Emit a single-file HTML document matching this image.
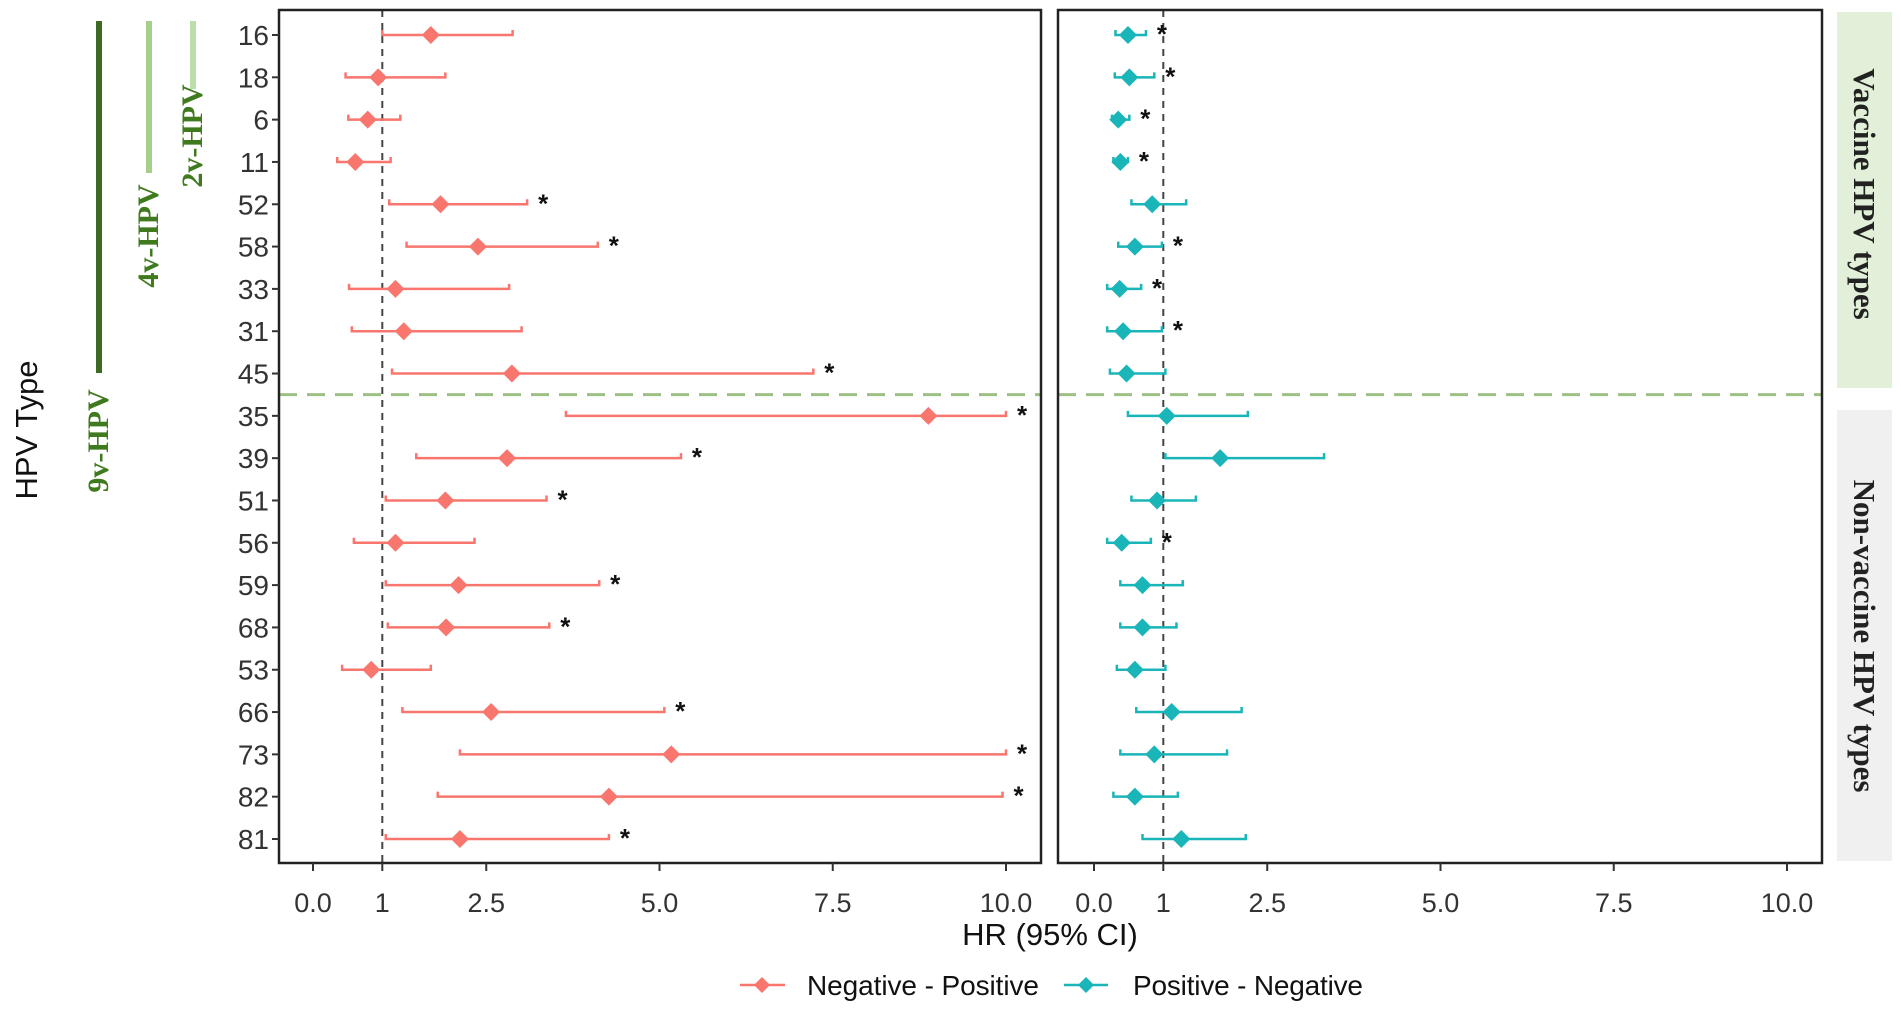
<!DOCTYPE html>
<html><head><meta charset="utf-8"><style>
html,body{margin:0;padding:0;background:#fff;}
svg{display:block;font-family:"Liberation Sans",Arial,sans-serif;}
</style></head><body>
<svg id="chart" width="1901" height="1012" viewBox="0 0 1901 1012" xmlns="http://www.w3.org/2000/svg">
<rect width="1901" height="1012" fill="#fff"/>
<g><text x="0" y="0" transform="translate(37,430) rotate(-90)" text-anchor="middle" font-size="31" fill="#111">HPV Type</text></g>
<g>
<line x1="99" y1="21" x2="99" y2="373" stroke="#3d6b24" stroke-width="6"/>
<line x1="149" y1="21" x2="149" y2="173" stroke="#a5d08c" stroke-width="6"/>
<line x1="193" y1="21" x2="193" y2="89" stroke="#bcdea8" stroke-width="6"/>
<text transform="translate(108,441) rotate(-90)" text-anchor="middle" font-family="Liberation Serif,serif" font-weight="bold" font-size="30" fill="#3f7a1e">9v-HPV</text>
<text transform="translate(158,236) rotate(-90)" text-anchor="middle" font-family="Liberation Serif,serif" font-weight="bold" font-size="30" fill="#3f7a1e">4v-HPV</text>
<text transform="translate(202,136) rotate(-90)" text-anchor="middle" font-family="Liberation Serif,serif" font-weight="bold" font-size="30" fill="#3f7a1e">2v-HPV</text>
</g>
<g id="plots"></g>
<g>
<rect x="1837" y="12" width="55" height="376" fill="#e2f0d9"/>
<text transform="translate(1854,194) rotate(90)" text-anchor="middle" font-family="Liberation Serif,serif" font-weight="bold" font-size="31" fill="#222">Vaccine HPV types</text>
<rect x="1837" y="410" width="55" height="451" fill="#f0f0f0"/>
<text transform="translate(1854,636) rotate(90)" text-anchor="middle" font-family="Liberation Serif,serif" font-weight="bold" font-size="31" fill="#222">Non-vaccine HPV types</text>
</g>
<text x="1050" y="945" text-anchor="middle" font-size="31" fill="#111">HR (95% CI)</text>
<g>
<g>
<line x1="740" y1="985" x2="785" y2="985" stroke="#f8766d" stroke-width="2.5"/>
<path d="M762,977 L770,985 L762,993 L754,985Z" fill="#f8766d"/>
<text x="807" y="995" font-size="28" fill="#111" textLength="232">Negative - Positive</text>
</g>
<g>
<line x1="1064" y1="985" x2="1108" y2="985" stroke="#19b5b8" stroke-width="2.5"/>
<path d="M1086,977 L1094,985 L1086,993 L1078,985Z" fill="#19b5b8"/>
<text x="1133" y="995" font-size="28" fill="#111" textLength="230">Positive - Negative</text>
</g>
</g>
</svg>
<script>
const types = ["16","18","6","11","52","58","33","31","45","35","39","51","56","59","68","53","66","73","82","81"];
const negPosLo = [1.00,0.47,0.51,0.35,1.10,1.35,0.52,0.56,1.14,3.65,1.49,1.05,0.59,1.05,1.08,0.42,1.29,2.12,1.80,1.05];
const negPosHR = [1.70,0.94,0.79,0.61,1.84,2.38,1.19,1.31,2.87,8.88,2.80,1.91,1.19,2.10,1.92,0.84,2.57,5.17,4.27,2.12];
const negPosHi = [2.88,1.91,1.26,1.12,3.09,4.11,2.83,3.01,7.22,10.0,5.31,3.37,2.33,4.13,3.41,1.70,5.07,10.0,9.95,4.27];
const negPosSig = [0,0,0,0,1,1,0,0,1,1,1,1,0,1,1,0,1,1,1,1];
const posNegLo = [0.31,0.30,0.26,0.28,0.54,0.35,0.19,0.19,0.23,0.49,1.03,0.54,0.19,0.38,0.38,0.33,0.61,0.38,0.28,0.70];
const posNegHR = [0.49,0.51,0.35,0.38,0.84,0.59,0.37,0.42,0.47,1.05,1.82,0.91,0.40,0.70,0.70,0.59,1.12,0.87,0.59,1.26];
const posNegHi = [0.75,0.87,0.51,0.49,1.33,0.98,0.68,0.98,1.03,2.22,3.32,1.47,0.82,1.28,1.19,1.03,2.13,1.92,1.21,2.19];
const posNegSig = [1,1,1,1,0,1,1,1,0,0,0,0,1,0,0,0,0,0,0,0];
const tickVals = [0,1,2.5,5,7.5,10];
const tickLabels = ["0.0","1","2.5","5.0","7.5","10.0"];
const NS="http://www.w3.org/2000/svg";
const root=document.getElementById('plots');
function mk(tag,attrs,parent){const e=document.createElementNS(NS,tag);for(const k in attrs)e.setAttribute(k,attrs[k]);(parent||root).appendChild(e);return e;}
const yTop=35, yBot=839;
function yScale(i){return yTop+(yBot-yTop)*i/(types.length-1);}
function panel(x0,x1,px0,px1,lo,hr,hi,sig,color,name,showY){
  const g=mk('g',{});
  
  
  const xs=v=>x0+(x1-x0)*v/10;
  const sep=(yScale(8)+yScale(9))/2;
  const vl=mk('line',{x1:xs(1),y1:10,x2:xs(1),y2:863,stroke:'#444','stroke-width':2,'stroke-dasharray':'7,6'},g);
  
  
  const hl=mk('line',{x1:px0,y1:sep,x2:px1,y2:sep,stroke:'#9dc184','stroke-width':3,'stroke-dasharray':'18,10'},g);
  
  
  for(let i=0;i<types.length;i++){
    const y=yScale(i), a=xs(lo[i]), b=xs(hi[i]), c=xs(hr[i]);
    const row=mk('g',{},g);
    
    
    mk('path',{d:`M${a},${y-5}V${y}H${b}V${y-5}`,fill:'none',stroke:color,'stroke-width':2.5},row);
    mk('path',{d:`M${c},${y-9}L${c+9},${y}L${c},${y+9}L${c-9},${y}Z`,fill:color},row);
    if(sig[i]){const s=mk('text',{x:b+16,y:y+8,'text-anchor':'middle','font-size':26,'font-weight':'bold',fill:'#111'},row);s.textContent='*';}
  }
  const fr=mk('rect',{x:px0,y:10,width:px1-px0,height:853,fill:'none',stroke:'#222','stroke-width':2.5},g);
  
  
  tickVals.forEach((v,k)=>{
    mk('line',{x1:xs(v),y1:863,x2:xs(v),y2:871,stroke:'#333','stroke-width':2},g);
    const t=mk('text',{x:xs(v),y:912,'text-anchor':'middle','font-size':27,fill:'#333'},g);
    
    
    t.textContent=tickLabels[k];
  });
  if(showY){
    types.forEach((tp,i)=>{
      mk('line',{x1:px0-7,y1:yScale(i),x2:px0,y2:yScale(i),stroke:'#333','stroke-width':2},g);
      const t=mk('text',{x:px0-10,y:yScale(i)+10,'text-anchor':'end','font-size':28,fill:'#333'},g);
      
      
      t.textContent=tp;
    });
  }
}
panel(313,1006,279,1041,negPosLo,negPosHR,negPosHi,negPosSig,'#f8766d','negative-positive-panel',true);
panel(1094,1787,1058,1822,posNegLo,posNegHR,posNegHi,posNegSig,'#19b5b8','positive-negative-panel',false);
</script>
</body></html>
